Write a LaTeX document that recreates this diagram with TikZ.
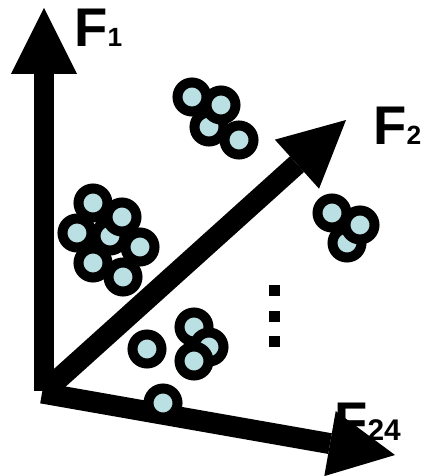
\documentclass[tikz,border=0pt]{standalone}
\usepackage{fontspec}
\setmainfont{Liberation Sans}
\usetikzlibrary{arrows.meta}
\definecolor{solfill}{RGB}{186,224,227}

\begin{document}
\begin{tikzpicture}[x=0.02cm, y=-0.02cm,
  axis/.style={line width=0.42cm, -{Triangle[length=1.32cm,width=1.32cm,line width=0pt]}},
  sol/.style={circle, draw=black, fill=solfill, line width=5.7pt, minimum size=0.58cm, inner sep=0pt},
  axlabel/.style={anchor=base west, inner sep=0pt, font=\bfseries\fontsize{31}{31}\selectfont},
  vdot/.style={fill=black, minimum size=0.22cm, inner sep=0pt}
]
\useasboundingbox (0,0) rectangle (426,476);

% ================= LABELS =================
\node[axlabel] (f1lab)  at (74,47)  {F{\fontsize{15}{15}\selectfont 1}};
\node[axlabel] (f2lab)  at (373,145) {F{\fontsize{15}{15}\selectfont 2}};
\node[axlabel] (f24lab) at (334,440) {F{\fontsize{17}{17}\selectfont 24}};

% ================= AXES =================
\coordinate (o1) at (44,391);
\coordinate (o2) at (44,392);
\coordinate (o3) at (42,393);
\coordinate (f1tip)  at (44,8);
\coordinate (f2tip)  at (346,120);
\coordinate (f24tip) at (395,455);

\draw[axis] (o1) -- (f1tip);
\draw[axis] (o2) -- (f2tip);
\draw[axis] (o3) -- (f24tip);

% ================= SOLUTIONS =================
% --- top group ---
\node[sol] (t3) at (209,127) {};
\node[sol] (t1) at (192,97) {};
\node[sol] (t2) at (221,105) {};
\node[sol] (t4) at (239,140) {};

% --- left group ---
\node[sol] (l4) at (110,236) {};
\node[sol] (l6) at (93,263) {};
\node[sol] (l1) at (93,203) {};
\node[sol] (l2) at (122,217) {};
\node[sol] (l3) at (77,233) {};
\node[sol] (l5) at (140,247) {};
\node[sol] (l7) at (123,277) {};

% --- right group ---
\node[sol] (r3) at (347,243) {};
\node[sol] (r1) at (332,213) {};
\node[sol] (r2) at (360,225) {};

% --- bottom group ---
\node[sol] (b1) at (147,349) {};
\node[sol] (b2) at (194,327) {};
\node[sol] (b3) at (209,347) {};
\node[sol] (b4) at (194,361) {};
\node[sol] (b5) at (163,403) {};

% --- more objectives ---
\foreach \y [count=\i] in {290,316,341.5}
  \node[vdot] (vdot\i) at (274.5,\y) {};

\end{tikzpicture}
\end{document}
